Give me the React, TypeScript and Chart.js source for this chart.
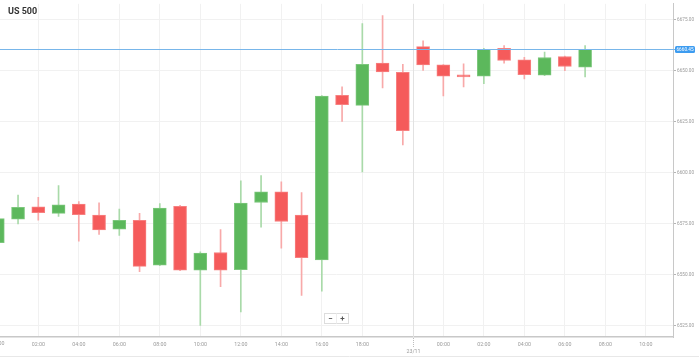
import React, { useEffect, useRef } from "react";
import { Chart, registerables } from "chart.js";

Chart.register(...registerables);

const chartTitle = "US 500";
const candleTimes = [
  "00:00", "01:00", "02:00", "03:00", "04:00", "05:00", "06:00", "07:00", "08:00", "09:00",
  "10:00", "11:00", "12:00", "13:00", "14:00", "15:00", "16:00", "17:00", "18:00", "19:00",
  "20:00", "23:00", "00:00", "01:00", "02:00", "03:00", "04:00", "05:00", "06:00", "07:00",
];
const openValues = [
  6565.7, 6577.2, 6583.3, 6580.1, 6584.6, 6579.3, 6572.3, 6576.7, 6554.7, 6583.6,
  6552.3, 6560.9, 6552.5, 6585.4, 6590.6, 6579.3, 6557.3, 6637.9, 6633.0, 6653.7,
  6649.2, 6661.8, 6652.9, 6647.8, 6647.3, 6661.0, 6655.3, 6647.8, 6657.0, 6651.8,
];
const highValues = [
  6579.0, 6589.1, 6588.0, 6593.7, 6585.9, 6585.3, 6582.2, 6580.1, 6584.9, 6584.0,
  6561.3, 6572.2, 6596.1, 6598.6, 6595.6, 6590.3, 6637.8, 6642.1, 6673.1, 6677.0,
  6653.2, 6664.7, 6653.0, 6653.4, 6661.0, 6662.3, 6656.6, 6659.1, 6657.2, 6662.3,
];
const lowValues = [
  6564.0, 6574.9, 6576.8, 6578.6, 6566.5, 6569.8, 6569.3, 6551.5, 6554.4, 6552.0,
  6525.2, 6544.2, 6531.8, 6573.3, 6563.0, 6539.9, 6542.0, 6625.1, 6600.4, 6641.6,
  6613.7, 6650.2, 6637.6, 6642.1, 6643.7, 6653.7, 6646.0, 6647.6, 6650.0, 6647.0,
];
const closeValues = [
  6577.5, 6583.0, 6580.4, 6584.3, 6579.5, 6572.0, 6576.7, 6554.1, 6582.7, 6552.3,
  6560.6, 6552.3, 6585.1, 6590.7, 6576.1, 6558.4, 6637.6, 6633.4, 6653.2, 6649.4,
  6620.6, 6652.9, 6647.3, 6647.0, 6660.5, 6655.0, 6648.1, 6656.5, 6652.1, 6660.45,
];
const lastPrice = 6660.45;

const yTickValues = [6525, 6550, 6575, 6600, 6625, 6650, 6675];
const yMin = 6519.5;
const yMax = 6682.8;

const xTickSlots = [2, 4, 6, 8, 10, 12, 14, 16, 18, 22, 24, 26, 28, 30, 32];
const xTickLabels = [
  "02:00", "04:00", "06:00", "08:00", "10:00", "12:00", "14:00", "16:00", "18:00",
  "00:00", "02:00", "04:00", "06:00", "08:00", "10:00",
];
const firstSlotLabel = "00:00";
const daySeparatorSlot = 20.5;
const daySeparatorLabel = "23/11";
const xMin = 0.109;
const xMax = 33.34;

const GREEN = "#5cb85c";
const GREEN_EDGE = "#7cc77c";
const GREEN_WICK = "#a9daa9";
const RED = "#f55b5b";
const RED_EDGE = "#f78080";
const RED_WICK = "#f8a9a9";
const FONT = "Roboto, 'Noto Sans', sans-serif";

const overlayPlugin = {
  id: "overlay",
  beforeDatasetsDraw(chart: any) {
    const { ctx, chartArea, scales } = chart;
    const x = Math.round(scales.x.getPixelForValue(daySeparatorSlot)) + 0.5;
    ctx.save();
    ctx.strokeStyle = "#e2e2e2";
    ctx.lineWidth = 1;
    ctx.beginPath();
    ctx.moveTo(x, chartArea.top);
    ctx.lineTo(x, chartArea.bottom);
    ctx.stroke();
    ctx.restore();
  },
  afterDraw(chart: any) {
    const { ctx, chartArea, scales } = chart;
    const xs = scales.x;
    const ys = scales.y;
    ctx.save();
    // price line
    const py = Math.round(ys.getPixelForValue(lastPrice)) + 0.5;
    ctx.strokeStyle = "#78b6ea";
    ctx.lineWidth = 1;
    ctx.beginPath();
    ctx.moveTo(chartArea.left, py);
    ctx.lineTo(chartArea.right + 2, py);
    ctx.stroke();
    // badge
    const bx = chartArea.right + 2;
    const bw = 20;
    const bh = 7;
    ctx.fillStyle = "#3d9cf0";
    ctx.beginPath();
    (ctx as any).roundRect(bx, py - bh / 2, bw, bh, 1.5);
    ctx.fill();
    ctx.fillStyle = "#ffffff";
    ctx.font = `4.7px ${FONT}`;
    ctx.textAlign = "center";
    ctx.textBaseline = "middle";
    ctx.fillText(lastPrice.toFixed(2), bx + bw / 2, py + 0.3);

    // first slot label (cut by the left edge)
    ctx.fillStyle = "#9a9a9a";
    ctx.font = `5.3px ${FONT}`;
    ctx.textAlign = "center";
    ctx.textBaseline = "middle";
    ctx.fillText(firstSlotLabel, xs.getPixelForValue(0), 344);

    // day separator tick + label
    const dx = Math.round(xs.getPixelForValue(daySeparatorSlot)) + 0.5;
    ctx.strokeStyle = "#bdbdbd";
    ctx.setLineDash([1, 1]);
    ctx.beginPath();
    ctx.moveTo(dx, chartArea.bottom + 1);
    ctx.lineTo(dx, chartArea.bottom + 10);
    ctx.stroke();
    ctx.setLineDash([]);
    ctx.fillText(daySeparatorLabel, dx, 352);

    // bottom frame line
    ctx.strokeStyle = "#e8e8e8";
    ctx.beginPath();
    ctx.moveTo(0, 356.5);
    ctx.lineTo(chart.width, 356.5);
    ctx.stroke();

    // title
    ctx.fillStyle = "#333333";
    ctx.font = `bold 9px ${FONT}`;
    ctx.textAlign = "left";
    ctx.textBaseline = "alphabetic";
    ctx.fillText(chartTitle, 8, 13.5);

    // zoom control
    ctx.fillStyle = "#ffffff";
    ctx.strokeStyle = "#dddddd";
    ctx.fillRect(324.5, 313.5, 24, 10);
    ctx.strokeRect(324.5, 313.5, 24, 10);
    ctx.beginPath();
    ctx.moveTo(336.5, 313.5);
    ctx.lineTo(336.5, 323.5);
    ctx.strokeStyle = "#eeeeee";
    ctx.stroke();
    ctx.fillStyle = "#555555";
    ctx.font = `bold 8px ${FONT}`;
    ctx.textAlign = "center";
    ctx.textBaseline = "middle";
    ctx.fillText("−", 330.5, 318.5);
    ctx.fillText("+", 342.5, 318.5);
    ctx.restore();
  },
};

export default function App() {
  const canvasRef = useRef<HTMLCanvasElement | null>(null);

  useEffect(() => {
    const canvas = canvasRef.current;
    if (!canvas) return;
    Chart.defaults.font.family = FONT;
    const up = openValues.map((o, i) => closeValues[i] >= o);
    const wickData = candleTimes.map((_, i) => ({ x: i, y: [lowValues[i], highValues[i]] }));
    const bodyData = candleTimes.map((_, i) => ({ x: i, y: [openValues[i], closeValues[i]] }));

    const chart = new Chart(canvas, {
      type: "bar",
      data: {
        datasets: [
          {
            label: "wick",
            data: wickData as any,
            backgroundColor: up.map((u) => (u ? GREEN_WICK : RED_WICK)),
            borderWidth: 0,
            barThickness: 1,
            grouped: false,
            order: 2,
          } as any,
          {
            label: "body",
            data: bodyData as any,
            backgroundColor: up.map((u) => (u ? GREEN : RED)),
            borderColor: up.map((u) => (u ? GREEN_EDGE : RED_EDGE)),
            borderWidth: 1,
            borderSkipped: false,
            barThickness: 13,
            minBarLength: 2,
            grouped: false,
            order: 1,
          } as any,
        ],
      },
      options: {
        animation: false,
        responsive: false,
        maintainAspectRatio: false,
        layout: { padding: 0 },
        plugins: {
          legend: { display: false },
          tooltip: { enabled: false },
          title: { display: false },
        },
        scales: {
          x: {
            type: "linear",
            position: "bottom",
            offset: false,
            min: xMin,
            max: xMax,
            afterBuildTicks: (s: any) => {
              s.ticks = xTickSlots.map((v) => ({ value: v }));
            },
            afterFit: (s: any) => {
              s.height = 20;
            },
            grid: { color: "#f1f1f1", drawTicks: false, lineWidth: 1, offset: false },
            border: { color: "#c8c8c8", width: 1.5 },
            ticks: {
              autoSkip: false,
              maxRotation: 0,
              padding: 4,
              color: "#9a9a9a",
              font: { size: 5.3 },
              callback: (v: any) => {
                const i = xTickSlots.indexOf(Number(v));
                return i >= 0 ? xTickLabels[i] : "";
              },
            },
          },
          y: {
            type: "linear",
            position: "right",
            min: yMin,
            max: yMax,
            afterBuildTicks: (s: any) => {
              s.ticks = yTickValues.map((v) => ({ value: v }));
            },
            afterFit: (s: any) => {
              s.width = 26;
            },
            grid: { color: "#f1f1f1", tickColor: "#b5b5b5", tickLength: 3, drawTicks: true },
            border: { color: "#c8c8c8", width: 1 },
            ticks: {
              padding: 1,
              color: "#9a9a9a",
              font: { size: 4.7 },
              callback: (v: any) => Number(v).toFixed(2),
            },
          },
        },
      } as any,
      plugins: [overlayPlugin],
    });
    return () => chart.destroy();
  }, []);

  return (
    <div style={{ position: "absolute", left: 0, top: 0, width: 699, height: 357, background: "#fff" }}>
      <canvas ref={canvasRef} width={699} height={357} style={{ display: "block", width: 699, height: 357 }} />
    </div>
  );
}
